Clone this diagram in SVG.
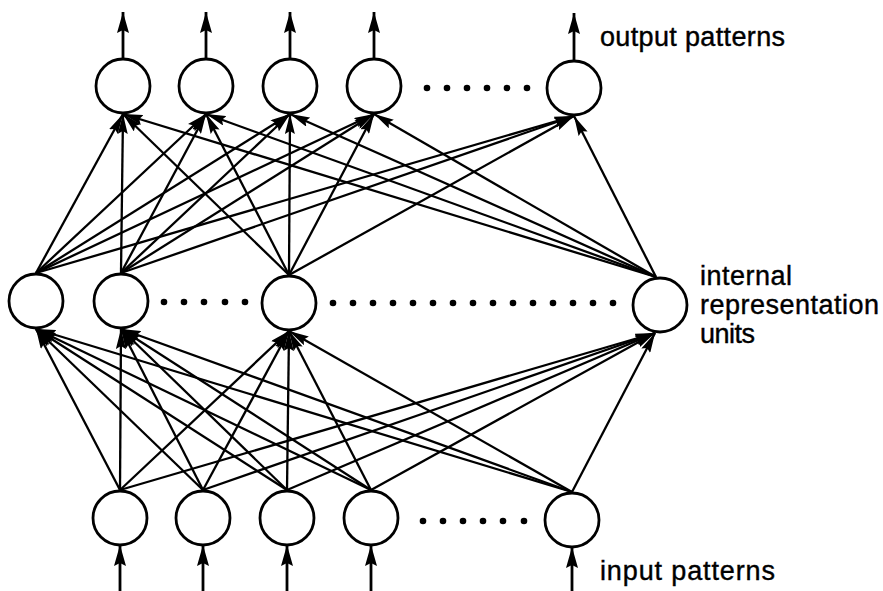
<svg xmlns="http://www.w3.org/2000/svg" width="883" height="591" viewBox="0 0 883 591">
<defs>
<marker id="ah" viewBox="0 0 20 10" refX="20" refY="5" markerWidth="20" markerHeight="10" orient="auto" markerUnits="userSpaceOnUse"><path d="M0,0 L20,5 L0,10 L3,5 z" fill="#000"/></marker>
<marker id="big" viewBox="0 0 21 12" refX="21" refY="6" markerWidth="21" markerHeight="12" orient="auto" markerUnits="userSpaceOnUse"><path d="M0,0 L21,6 L0,12 L3,6 z" fill="#000"/></marker>
</defs>
<style>
.node{fill:#fff;stroke:#000;stroke-width:2.8}
.c line{stroke:#000;stroke-width:2.3;marker-end:url(#ah)}
.io line{stroke:#000;stroke-width:2.8;marker-end:url(#big)}
.dot{fill:#000}
text{font-family:"Liberation Sans",Arial,sans-serif;font-size:27px;fill:#000;stroke:#000;stroke-width:0.4}
</style>
<rect width="883" height="591" fill="#fff"/>
<g id="connectors">
<g class="c">
<line x1="36" y1="273" x2="123" y2="114"/><line x1="36" y1="273" x2="206" y2="114"/><line x1="36" y1="273" x2="290" y2="114"/><line x1="36" y1="273" x2="374" y2="114"/><line x1="36" y1="273" x2="574" y2="116"/>
<line x1="121" y1="273" x2="123" y2="114"/><line x1="121" y1="273" x2="206" y2="114"/><line x1="121" y1="273" x2="290" y2="114"/><line x1="121" y1="273" x2="374" y2="114"/><line x1="121" y1="273" x2="574" y2="116"/>
<line x1="289" y1="275" x2="123" y2="114"/><line x1="289" y1="275" x2="206" y2="114"/><line x1="289" y1="275" x2="290" y2="114"/><line x1="289" y1="275" x2="374" y2="114"/><line x1="289" y1="275" x2="574" y2="116"/>
<line x1="656" y1="277" x2="123" y2="114"/><line x1="656" y1="277" x2="206" y2="114"/><line x1="656" y1="277" x2="290" y2="114"/><line x1="656" y1="277" x2="374" y2="114"/><line x1="656" y1="277" x2="574" y2="116"/>
<line x1="120" y1="490" x2="36" y2="329"/><line x1="120" y1="490" x2="121" y2="329"/><line x1="120" y1="490" x2="289" y2="331"/><line x1="120" y1="490" x2="655" y2="333"/>
<line x1="203" y1="490" x2="36" y2="329"/><line x1="203" y1="490" x2="121" y2="329"/><line x1="203" y1="490" x2="289" y2="331"/><line x1="203" y1="490" x2="655" y2="333"/>
<line x1="287" y1="490" x2="36" y2="329"/><line x1="287" y1="490" x2="121" y2="329"/><line x1="287" y1="490" x2="289" y2="331"/><line x1="287" y1="490" x2="655" y2="333"/>
<line x1="371" y1="490" x2="36" y2="329"/><line x1="371" y1="490" x2="121" y2="329"/><line x1="371" y1="490" x2="289" y2="331"/><line x1="371" y1="490" x2="655" y2="333"/>
<line x1="572" y1="492" x2="36" y2="329"/><line x1="572" y1="492" x2="121" y2="329"/><line x1="572" y1="492" x2="289" y2="331"/><line x1="572" y1="492" x2="655" y2="333"/>
</g>
<g class="io">
<line x1="123" y1="59" x2="123" y2="12"/><line x1="206" y1="59" x2="206" y2="12"/><line x1="290" y1="59" x2="290" y2="12"/><line x1="374" y1="59" x2="374" y2="12"/><line x1="574" y1="61" x2="574" y2="13"/>
<line x1="120" y1="591" x2="120" y2="545"/><line x1="203" y1="591" x2="203" y2="545"/><line x1="287" y1="591" x2="287" y2="545"/><line x1="371" y1="591" x2="371" y2="545"/><line x1="572" y1="591" x2="572" y2="547"/>
</g>
</g>
<g id="output-units">
<circle id="o1" class="node" cx="123" cy="86" r="27"/><circle id="o2" class="node" cx="206" cy="86" r="27"/><circle id="o3" class="node" cx="290" cy="86" r="27"/><circle id="o4" class="node" cx="374" cy="86" r="27"/><circle id="o5" class="node" cx="574" cy="88" r="27"/>
<g class="dot"><circle cx="427" cy="88" r="3.3"/><circle cx="447" cy="88" r="3.3"/><circle cx="467" cy="88" r="3.3"/><circle cx="487" cy="88" r="3.3"/><circle cx="507" cy="88" r="3.3"/><circle cx="527" cy="88" r="3.3"/></g>
<text x="600" y="46" textLength="185" lengthAdjust="spacing">output patterns</text>
</g>
<g id="hidden-units">
<circle id="h1" class="node" cx="36" cy="301" r="27"/><circle id="h2" class="node" cx="121" cy="301" r="27"/><circle id="h3" class="node" cx="289" cy="303" r="27"/><circle id="h4" class="node" cx="660" cy="305" r="27"/>
<g class="dot"><circle cx="164" cy="302" r="3.3"/><circle cx="184" cy="302" r="3.3"/><circle cx="204" cy="302" r="3.3"/><circle cx="225" cy="302" r="3.3"/><circle cx="245" cy="302" r="3.3"/>
<circle cx="333" cy="303" r="3.3"/><circle cx="353" cy="303" r="3.3"/><circle cx="373" cy="303" r="3.3"/><circle cx="393" cy="303" r="3.3"/><circle cx="413" cy="303" r="3.3"/><circle cx="433" cy="303" r="3.3"/><circle cx="453" cy="303" r="3.3"/><circle cx="473" cy="303" r="3.3"/><circle cx="493" cy="303" r="3.3"/><circle cx="513" cy="303" r="3.3"/><circle cx="533" cy="303" r="3.3"/><circle cx="553" cy="303" r="3.3"/><circle cx="573" cy="303" r="3.3"/><circle cx="593" cy="303" r="3.3"/><circle cx="613" cy="303" r="3.3"/></g>
<text x="700" y="285" textLength="92" lengthAdjust="spacing">internal</text>
<text x="700" y="314" textLength="179" lengthAdjust="spacing">representation</text>
<text x="700" y="343" textLength="55" lengthAdjust="spacing">units</text>
</g>
<g id="input-units">
<circle id="i1" class="node" cx="120" cy="518" r="27"/><circle id="i2" class="node" cx="203" cy="518" r="27"/><circle id="i3" class="node" cx="287" cy="518" r="27"/><circle id="i4" class="node" cx="371" cy="518" r="27"/><circle id="i5" class="node" cx="572" cy="520" r="27"/>
<g class="dot"><circle cx="423" cy="521" r="3.3"/><circle cx="443" cy="521" r="3.3"/><circle cx="463" cy="521" r="3.3"/><circle cx="483" cy="521" r="3.3"/><circle cx="503" cy="521" r="3.3"/><circle cx="524" cy="521" r="3.3"/></g>
<text x="600" y="580" textLength="175" lengthAdjust="spacing">input patterns</text>
</g>
</svg>
